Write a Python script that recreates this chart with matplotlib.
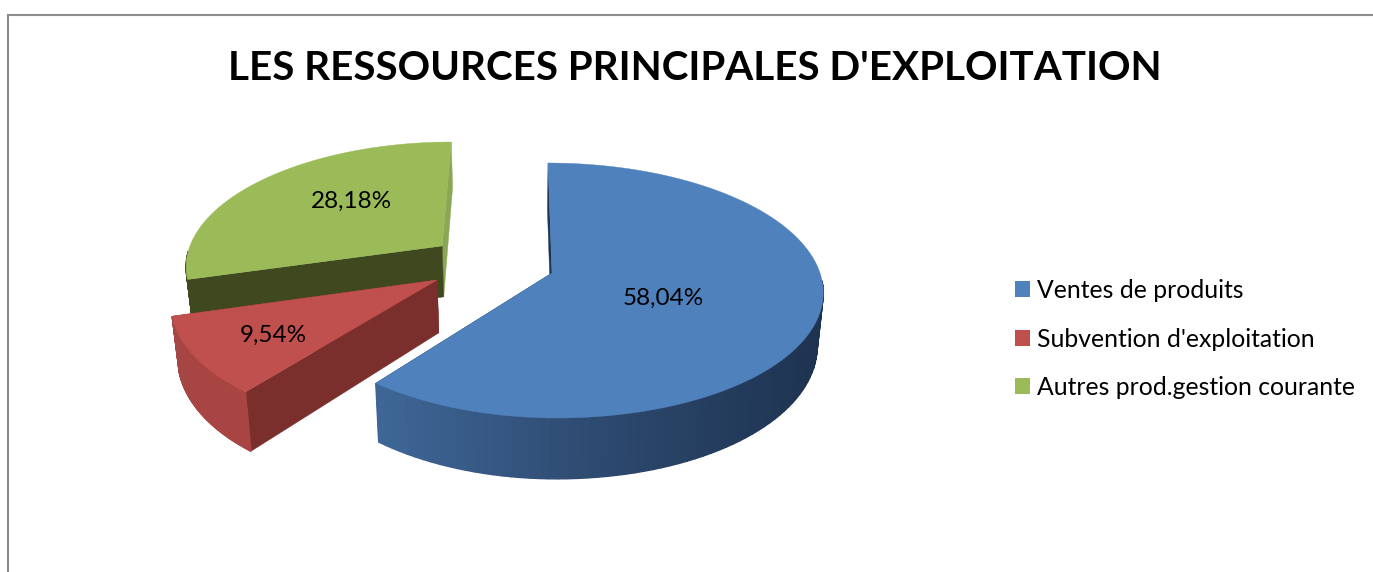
import matplotlib
matplotlib.use('Agg')
import matplotlib.pyplot as plt
from matplotlib.patches import Patch
import numpy as np

plt.rcParams['font.family'] = ['Lato', 'DejaVu Sans']

title = "LES RESSOURCES PRINCIPALES D'EXPLOITATION"
categories = ['Ventes de produits', "Subvention d'exploitation", 'Autres prod.gestion courante']
percents = [58.04, 9.54, 28.18]
colors = ['#4F81BD', '#C0504D', '#9BBB59']
side_colors = ['#1D3557', '#7A2F2D', '#40481F']
end_colors = ['#1D3557', '#7A2F2D', '#8AA854']
rim_colors = [['#1E3350', '#2D4A70', '#3F6797'],
              ['#A84442', '#A84442', '#A34846'],
              ['#40481F', '#40481F', '#40481F']]
label_pos = [(663, 298.5), (273, 335.5), (351, 201.5)]

# perspective of the disc, in pixels
X_V, Y_V = 519, -638
DIST = 911
K = 0.1373
R = 268
OFF = 33
DEPTH = 52.5
EXPLODE = 0.24
LEFT_SQUEEZE = 0.97


def project(u, v, drop=0):
    s = 1 / (1 + K * v)
    x = X_V + (OFF + R * u) * s
    y = Y_V + (DIST + drop) * s
    x = X_V + (x - X_V) * (1 - 0.02 * drop / DEPTH)
    return x, y


def rim(ang):
    su = np.sin(ang)
    return np.where(su < 0, su * LEFT_SQUEEZE, su), np.cos(ang)


edges = np.concatenate([[0], np.cumsum(percents)]) / np.sum(percents) * 360
mid0 = np.radians((edges[0] + edges[1]) / 2)
cu = -EXPLODE * np.sin(mid0)
cv = -EXPLODE * np.cos(mid0)

fig = plt.figure(figsize=(13.73, 5.72), dpi=100)
ax = fig.add_axes([0, 0, 1, 1])
ax.set_xlim(0, 1373)
ax.set_ylim(572, 0)
ax.axis('off')

ax.plot([7.5, 7.5, 1373], [572, 15, 15], color='#8C8C8C', lw=1.5, solid_joinstyle='miter')

# painter's order: green, red, blue
for i in [2, 1, 0]:
    a0, a1 = np.radians(edges[i]), np.radians(edges[i + 1])
    mid = (a0 + a1) / 2
    au = cu + EXPLODE * np.sin(mid)
    av = cv + EXPLODE * np.cos(mid)
    t = np.linspace(a0, a1, 120)
    du, dv = rim(t)
    ru = au + du
    rv = av + dv

    # radial walls
    for ang, col in [(a1, end_colors[i]), (a0, side_colors[i])]:
        eu, ev = rim(ang)
        eu, ev = au + eu, av + ev
        p = [project(au, av), project(eu, ev), project(eu, ev, DEPTH), project(au, av, DEPTH)]
        ax.fill(*zip(*p), color=col, lw=0.3, zorder=3)

    # outer wall, shaded by strips, only the part facing the viewer
    rgb = np.array([matplotlib.colors.to_rgb(c) for c in rim_colors[i]])
    for j in range(len(t) - 1):
        if np.cos(t[j]) > -0.05:
            continue
        x0, y0 = project(ru[j], rv[j])
        x1, y1 = project(ru[j + 1], rv[j + 1])
        x2, y2 = project(ru[j + 1], rv[j + 1], DEPTH)
        x3, y3 = project(ru[j], rv[j], DEPTH)
        f = np.clip((x0 + x3 - 2 * 380) / (2 * 440), 0, 1) if i == 0 else j / (len(t) - 2)
        f = 1 - f if i == 0 else f
        col = [np.interp(f, [0, 0.5, 1], rgb[:, k]) for k in range(3)]
        ax.fill([x0, x1, x2, x3], [y0, y1, y2, y3], color=col, lw=1.0, zorder=3)

    # top face
    px, py = project(np.r_[au, ru], np.r_[av, rv])
    ax.fill(px, py, color=colors[i], lw=0.3, zorder=3)

    lx, ly = label_pos[i]
    ax.text(lx, ly, f'{percents[i]:.2f}%'.replace('.', ','), ha='center', va='center',
            fontsize=17.5, color='black', zorder=4)

ax.text(694.5, 69, title, ha='center', va='center', fontsize=29.1, fontweight='bold', color='black')

handles = [Patch(facecolor=c, edgecolor='none') for c in colors]
ax.legend(handles, categories, loc='center left', bbox_to_anchor=(1015 / 1373, 1 - 339 / 572),
          frameon=False, fontsize=17.85, handlelength=0.605, handleheight=0.605, handletextpad=0.28,
          labelspacing=1.03, borderpad=0, borderaxespad=0, labelcolor='black')

fig.savefig('out.png', dpi=100)
